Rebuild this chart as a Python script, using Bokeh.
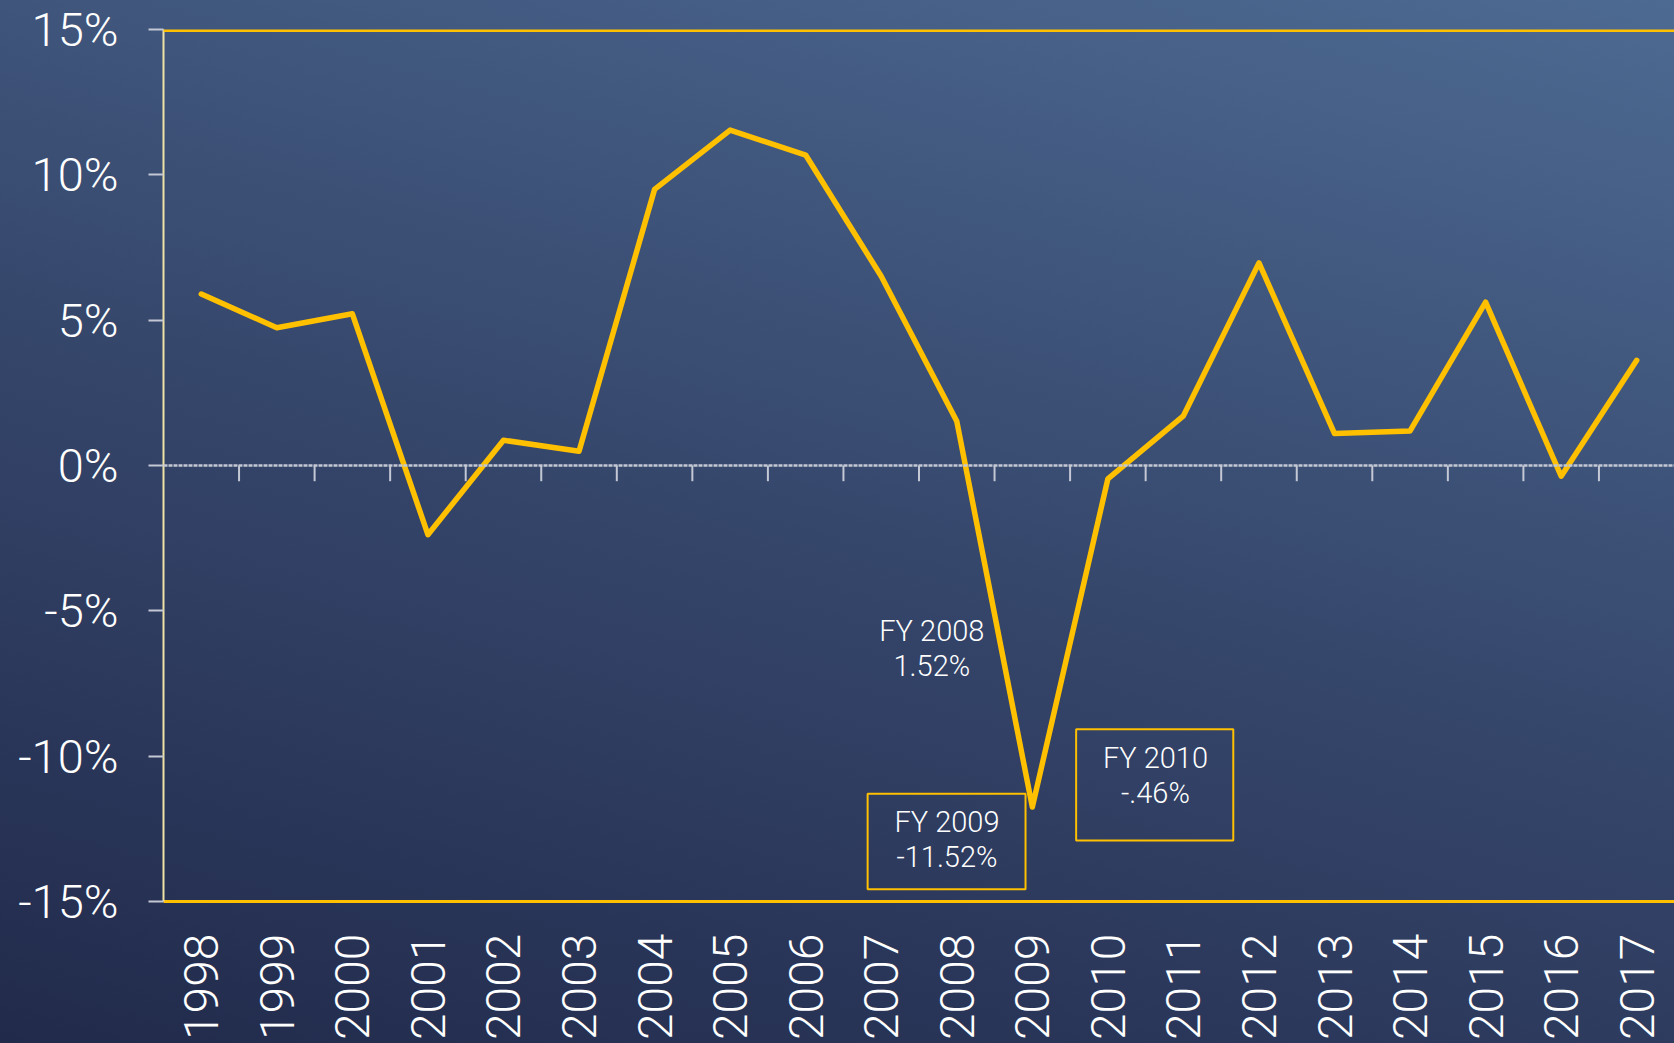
import math
from bokeh.plotting import figure
from bokeh.models import FactorRange, Range1d, FixedTicker, Span, Label, BoxAnnotation, ColumnDataSource
from bokeh.embed import file_html
from bokeh.resources import INLINE

# ---- data ----
years = [str(y) for y in range(1998, 2018)]
growth = [5.90, 4.74, 5.22, -2.38, 0.87, 0.49, 9.50, 11.54, 10.68, 6.51,
          1.52, -11.75, -0.46, 1.71, 6.97, 1.10, 1.19, 5.62, -0.37, 3.62]
y_ticks = [-15, -10, -5, 0, 5, 10, 15]
y_tick_labels = ["-15%", "-10%", "-5%", "0%", "5%", "10%", "15%"]
callout_titles = ["FY 2008", "FY 2009", "FY 2010"]
callout_values = ["1.52%", "-11.52%", "-.46%"]

YELLOW = "#FFC000"
GRID = "#c3c8d4"
FONT = "Roboto Light"

p = figure(width=1674, height=1043, x_range=FactorRange(factors=years, range_padding=0),
           y_range=Range1d(-15, 15), output_backend="svg", toolbar_location=None,
           min_border_left=163, min_border_right=0, min_border_top=29, min_border_bottom=139)
p.styles = {"background-image": "linear-gradient(195deg, #4d6a92 0%, #36476c 50%, #212a4b 100%)"}
p.background_fill_color = None
p.border_fill_color = None
p.outline_line_color = None
p.xgrid.grid_line_color = None
p.ygrid.grid_line_color = None

# y axis
p.yaxis.ticker = FixedTicker(ticks=y_ticks)
p.yaxis.major_label_overrides = {t: l for t, l in zip(y_ticks, y_tick_labels)}
p.yaxis.major_label_text_font = FONT
p.yaxis.major_label_text_font_size = "47px"
p.yaxis.major_label_text_color = "white"
p.yaxis.major_tick_in = 0
p.yaxis.major_tick_out = 15
p.yaxis.major_tick_line_color = GRID
p.yaxis.major_tick_line_width = 2
p.yaxis.minor_tick_line_color = None
p.yaxis.axis_line_color = "#efe2a6"
p.yaxis.axis_line_width = 2
p.yaxis.major_label_standoff = 30

# x axis
p.xaxis.major_label_orientation = math.pi / 2
p.xaxis.major_label_text_font = FONT
p.xaxis.major_label_text_font_size = "48px"
p.xaxis.major_label_text_color = "white"
p.xaxis.major_tick_line_color = None
p.xaxis.major_tick_in = 0
p.xaxis.major_tick_out = 0
p.xaxis.axis_line_color = YELLOW
p.xaxis.axis_line_width = 3
p.xaxis.major_label_standoff = 32

# top frame line and zero line
p.add_layout(Span(location=15, dimension="width", line_color=YELLOW, line_width=5))
p.add_layout(Span(location=0, dimension="width", line_color=GRID, line_width=2.5, line_dash="4 1"))

# category boundary ticks on the zero line
bounds = list(range(1, len(years)))
p.segment(x0=bounds, x1=bounds, y0=[0] * len(bounds), y1=[-0.54] * len(bounds),
          line_color=GRID, line_width=2)

# main series
src = ColumnDataSource(dict(year=years, growth=growth))
p.line("year", "growth", source=src, line_color=YELLOW, line_width=5.5,
       line_join="round", line_cap="round")

# callouts
p.add_layout(BoxAnnotation(left=9.32, right=11.41, top=-11.29, bottom=-14.58,
                           fill_alpha=0, line_color=YELLOW, line_alpha=1, line_width=2))
p.add_layout(BoxAnnotation(left=12.08, right=14.16, top=-9.07, bottom=-12.90,
                           fill_alpha=0, line_color=YELLOW, line_alpha=1, line_width=2))
pos = [(10.17, -5.70, -6.90), (10.37, -12.28, -13.48), (13.13, -10.06, -11.26)]
for (cx, y1, y2), t, v in zip(pos, callout_titles, callout_values):
    for txt, yy in ((t, y1), (v, y2)):
        p.add_layout(Label(x=cx, y=yy, text=txt, text_align="center",
                           text_baseline="alphabetic", text_color="white",
                           text_font=FONT, text_font_size="29px"))

open("out.html", "w").write(file_html(p, INLINE))
